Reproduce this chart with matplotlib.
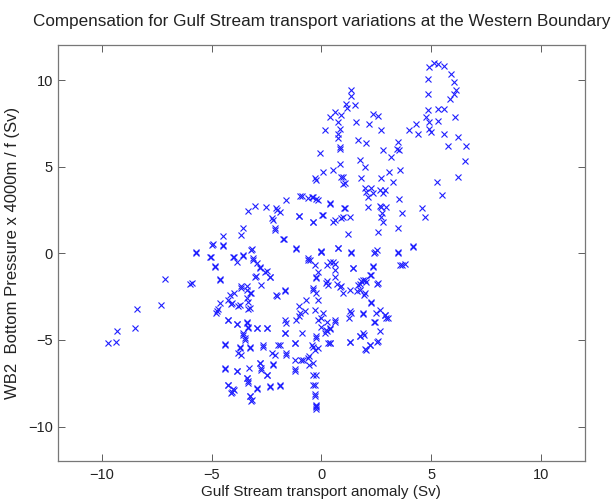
import matplotlib
matplotlib.use("Agg")
import matplotlib.pyplot as plt

plt.rcParams['font.family'] = ['Liberation Sans', 'DejaVu Sans']

# (transport anomaly, bottom pressure) pairs, by region
tail_pts = [(-9.7, -5.2), (-9.35, -5.1), (-9.3, -4.5), (-8.5, -4.3), (-8.4, -3.2), (-7.3, -3.0),
            (-7.1, -1.5), (-6.0, -1.8), (-5.7, 0.0), (-5.91, -1.73), (-5.71, 0.06)]

west_pts = [(-5.0, 0.5), (-4.5, 0.5), (-5.05, -0.2), (-4.85, -0.8), (-4.6, -1.5), (-4.0, -0.2),
            (-3.55, -0.1), (-3.2, 0.2), (-3.1, -0.4), (-2.8, -0.8), (-2.5, -1.05), (-2.35, -1.35),
            (-3.0, -1.3), (-3.65, -1.9), (-4.0, -2.3), (-4.25, -2.7), (-4.1, -2.9), (-4.7, -3.2),
            (-4.8, -3.45), (-3.8, -3.05), (-3.35, -3.2), (-3.4, -2.6), (-3.2, -2.3), (-3.4, -1.9),
            (-4.25, -3.85), (-3.85, -4.1), (-3.4, -3.95), (-3.35, -4.3), (-2.95, -4.3), (-2.5, -4.3),
            (-3.55, -4.7), (-3.5, -5.0), (-3.7, -5.4), (-3.25, -5.4), (-3.65, -5.85), (-4.4, -5.3),
            (-4.4, -6.6), (-3.85, -6.8), (-4.25, -7.6), (-4.0, -7.9), (-4.1, -8.05), (-3.4, -7.2),
            (-3.35, -7.5), (-2.95, -7.75), (-3.25, -8.25), (-3.2, -8.55), (-2.8, -6.35), (-2.75, -6.6),
            (-2.5, -7.0), (-2.35, -7.7), (-1.9, -7.6), (-2.2, -6.45), (-2.1, -5.85), (-1.6, -5.85),
            (-1.2, -6.7), (-1.2, -5.2), (-1.9, -5.3), (-2.65, -5.4), (-2.05, -2.4), (-1.65, -2.1),
            (-1.65, -3.85), (-1.65, -4.6), (-1.0, -3.65), (-1.0, -3.05), (-0.9, -4.6), (-0.85, -6.15),
            (-0.6, -6.05), (-0.55, -5.95), (-0.55, -6.45), (-0.4, -7.0), (-0.3, -7.6), (-0.3, -8.15),
            (-0.25, -8.75), (-0.25, -8.9)]

west_fine_pts = [(-4.62, -2.88), (-4.77, -3.36), (-4.09, -2.88), (-3.71, -2.98), (-3.34, -2.79),
                 (-3.26, -3.17), (-4.25, -3.84), (-3.86, -4.07), (-3.41, -4.0), (-3.34, -4.23),
                 (-2.95, -4.32), (-2.5, -4.32), (-3.56, -4.61), (-3.49, -4.89), (-4.4, -5.22),
                 (-3.71, -5.47), (-3.79, -5.76), (-3.26, -5.47), (-2.65, -5.28), (-2.27, -5.76),
                 (-1.97, -5.28), (-1.59, -5.76), (-1.67, -4.61), (-1.21, -5.18), (-1.62, -4.0),
                 (-0.99, -3.45), (-1.21, -6.14), (-0.91, -6.14), (-4.4, -6.68), (-3.86, -6.82),
                 (-3.29, -6.62), (-2.8, -6.33), (-2.73, -6.72), (-2.47, -7.01), (-2.2, -6.37),
                 (-1.21, -6.82), (-4.25, -7.58), (-4.02, -7.83), (-4.09, -8.03), (-3.41, -7.2),
                 (-3.34, -7.39), (-2.95, -7.83), (-2.35, -7.68), (-1.9, -7.64), (-3.26, -8.26),
                 (-3.18, -8.49)]

mid_pts = [(-1.59, 3.07), (-0.99, 3.32), (-0.61, 3.2), (-3.03, 2.74), (-2.53, 2.68), (-3.34, 2.44),
           (-2.05, 2.59), (-1.9, 2.4), (-2.27, 2.01), (-1.02, 2.17), (-2.12, 1.44), (-3.56, 1.44),
           (-3.64, 1.05), (-4.47, 1.01), (-1.71, 0.82), (-4.5, 0.44), (-4.95, 0.52), (-5.08, -0.2),
           (-1.14, 0.29), (-3.18, 0.25), (-4.02, -0.2), (-3.56, -0.14), (-3.11, -0.29), (-3.86, -0.52),
           (-4.85, -0.71), (-2.95, -0.58), (-2.8, -0.86), (-2.58, -1.06), (-2.35, -1.35), (-3.03, -1.35),
           (-4.62, -1.54), (-3.64, -2.02), (-3.41, -2.11), (-3.26, -2.3), (-4.17, -2.4), (-2.02, -2.44),
           (-1.67, -2.17), (-2.73, -1.83), (-0.9, 3.3), (-0.45, 3.25), (-0.25, 3.15), (-0.4, 1.8),
           (0.05, 2.2), (-0.6, -0.3), (0.0, 0.15)]

center_pts = [(-0.6, -0.4), (0.0, 0.1), (0.25, -0.65), (0.55, -0.5), (-0.25, -1.35), (-0.4, -2.0),
              (-0.25, -2.3), (-0.15, -2.7), (-0.3, -3.25), (0.0, -3.75), (0.25, -3.95), (0.4, -4.3),
              (0.25, -4.5), (-0.25, -4.9), (-0.4, -5.4), (-0.15, -5.45), (0.3, -5.2), (0.25, -1.6),
              (0.3, -1.85), (0.6, -3.85), (0.7, -1.75), (-0.7, -2.7), (-0.75, -3.35), (-1.15, -3.85),
              (0.08, -3.45), (-0.15, -3.84), (0.6, -3.94), (0.0, -4.23), (0.23, -4.42), (0.15, -4.61),
              (-0.23, -4.8), (0.38, -5.18), (-0.45, -5.28), (-0.3, -5.57), (-0.38, -6.33),
              (-0.23, -7.01), (-0.38, -7.58), (-0.3, -8.26), (-0.23, -8.83), (-0.23, -8.99)]

east_pts = [(0.75, 0.3), (1.35, 0.0), (2.4, 0.0), (3.5, 0.0), (4.15, 0.4), (3.65, -0.65), (3.8, -0.6),
            (2.35, -0.75), (1.45, -0.85), (0.6, -0.6), (0.6, -1.35), (1.9, -1.55), (1.75, -1.75),
            (2.05, -1.65), (2.25, -1.25), (2.55, -1.75), (0.9, -1.9), (1.3, -2.1), (1.6, -2.2),
            (1.95, -2.4), (2.25, -2.8), (2.65, -3.25), (2.95, -3.75), (2.9, -3.55), (2.4, -3.95),
            (1.9, -3.45), (1.3, -3.35), (1.25, -3.75), (0.4, -4.4), (0.4, -5.2), (1.3, -5.1),
            (1.75, -4.8), (1.95, -4.7), (2.65, -4.5), (2.55, -5.1), (2.2, -5.3), (2.0, -5.55),
            (2.27, -2.88), (1.36, -3.45), (1.89, -3.5), (2.5, -3.45), (2.88, -3.55), (3.03, -3.74),
            (2.42, -3.94), (1.89, -4.61), (1.74, -4.8), (1.29, -5.15), (2.2, -5.28), (2.57, -5.09),
            (2.05, -5.57), (-0.53, -0.39), (-0.3, -0.67), (-0.15, -1.06), (0.38, -0.52), (0.6, -0.96),
            (1.44, -0.86), (2.35, -0.77), (3.56, -0.67), (-0.23, -1.44), (0.23, -1.73), (0.83, -1.92),
            (1.82, -1.63), (1.97, -1.54), (2.2, -1.25), (2.57, -1.73), (1.66, -1.83), (-0.38, -2.11),
            (0.98, -2.3), (1.74, -2.11), (1.97, -2.3)]

upper_pts = [(-0.3, 4.32), (0.98, 4.41), (1.82, 4.35), (2.73, 4.32), (3.25, 4.09), (1.06, 4.03),
             (1.97, 3.74), (2.27, 3.74), (2.35, 3.45), (2.12, 3.26), (2.88, 3.64), (2.8, 3.45),
             (-0.38, 3.26), (-0.15, 3.07), (3.53, 3.12), (0.38, 2.82), (2.12, 2.68), (1.06, 2.59),
             (2.73, 2.68), (2.95, 2.68), (3.68, 2.3), (0.08, 2.2), (0.91, 2.05), (1.32, 2.11),
             (0.6, 1.92), (2.73, 2.11), (2.8, 1.82), (-0.38, 1.82), (3.48, 1.44), (2.57, 1.24),
             (1.21, 1.09), (4.16, 0.38), (0.0, 0.09), (0.75, 0.29), (1.36, 0.06), (2.42, 0.06),
             (3.48, 0.06), (2.55, 0.2), (1.0, 2.1), (1.05, 2.6), (0.55, 1.8), (0.4, 2.9),
             (2.65, 2.7), (2.75, 2.3), (2.05, 3.55), (2.65, 3.65), (-2.0, 2.5), (-2.2, 1.9),
             (-2.1, 1.35), (-1.75, 0.8), (-1.0, 2.15), (-1.15, 0.25)]

north_pts = [(1.36, 9.4), (1.36, 9.1), (1.14, 8.6), (1.51, 8.54), (0.6, 8.15), (0.38, 7.86),
             (0.91, 7.96), (0.75, 7.58), (1.59, 7.58), (2.16, 7.44), (2.35, 8.06), (2.57, 7.9),
             (2.73, 7.14), (0.15, 7.1), (0.83, 7.2), (0.75, 6.68), (1.66, 6.52), (2.01, 6.37),
             (3.48, 6.42), (3.44, 6.04), (2.8, 5.95), (3.18, 5.56), (-0.08, 5.76), (0.83, 6.04),
             (1.74, 5.37), (1.97, 4.99), (0.83, 5.18), (4.01, 7.1), (4.32, 7.44), (4.39, 6.91),
             (0.08, 4.7), (0.53, 4.8), (3.1, 4.7), (3.56, 4.8), (0.85, 6.15), (3.55, 5.95),
             (0.9, 4.4), (1.0, 4.0), (-0.25, 4.25), (1.15, 8.4), (0.75, 6.9)]

loop_pts = [(4.9, 10.75), (5.15, 11.0), (5.3, 10.95), (5.6, 10.8), (5.9, 10.35), (6.05, 9.9),
            (6.15, 9.4), (6.05, 9.2), (5.85, 8.9), (4.85, 10.05), (4.85, 9.2), (4.85, 8.25),
            (5.3, 8.35), (5.6, 8.35), (6.1, 7.85), (4.75, 7.85), (4.9, 7.6), (5.3, 7.65), (4.9, 7.2),
            (5.0, 7.0), (5.6, 6.9), (6.2, 6.7), (5.75, 6.2), (6.6, 6.2), (6.55, 5.35), (6.2, 4.4),
            (5.25, 4.1), (5.5, 3.35), (4.6, 2.6), (4.7, 2.1)]

all_pts = (tail_pts + west_pts + west_fine_pts + mid_pts + center_pts + east_pts
           + upper_pts + north_pts + loop_pts)
transport = [p[0] for p in all_pts]
pressure = [p[1] for p in all_pts]

ticks = [-10, -5, 0, 5, 10]

fig = plt.figure(figsize=(6.16, 5.04), dpi=100)
ax = fig.add_axes([0.094, 0.085, 0.8555, 0.825])

ax.plot(transport, pressure, 'x', color='#1f1fff', markersize=4.5, markeredgewidth=0.8)

ax.set_xlim(-12, 12)
ax.set_ylim(-12, 12)
ax.set_xticks(ticks)
ax.set_yticks(ticks)
ax.tick_params(direction='in', top=True, right=True, length=5, width=0.6,
               color='#444444', labelsize=10.5, labelcolor='#222222')
ax.tick_params(axis='x', pad=5)
for s in ax.spines.values():
    s.set_color('#777777')
    s.set_linewidth(0.9)

ax.set_xlabel("Gulf Stream transport anomaly (Sv)", fontsize=11, color='#222222', labelpad=2)
ax.set_ylabel("WB2  Bottom Pressure x 4000m / f (Sv)", fontsize=12, color='#222222', labelpad=6)
fig.text(0.522, 0.958, "Compensation for Gulf Stream transport variations at the Western Boundary",
         ha='center', va='center', fontsize=12.3, color='#222222')

fig.savefig("out.png", dpi=100)
